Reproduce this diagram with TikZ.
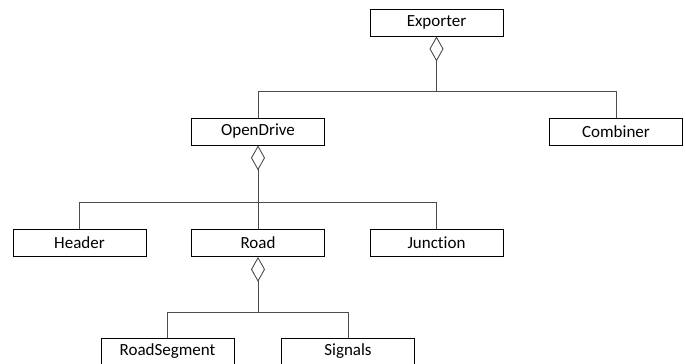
\documentclass[tikz,border=0pt]{standalone}
\usepackage{fontspec}
\setmainfont[Ligatures={NoCommon}]{Carlito}
\usetikzlibrary{arrows.meta}
\tikzset{
    class node/.style={draw, line width=0.8pt, minimum width=133pt, minimum height=27pt, inner sep=0pt, font=\fontsize{17}{19}\selectfont},
    link/.style={draw=black!70, line width=0.9pt},
    agg/.style={link, {Diamond[open, length=25pt, width=14pt, line width=0.9pt]}-},
}

\begin{document}
\begin{tikzpicture}[x=1pt, y=-1pt]
    \useasboundingbox (0,0) rectangle (686,364);
    \node[class node] (exporter) at (436.5,22.5) {Exporter};
    \node[class node] (combiner) at (616,131.5) {Combiner};
    \node[class node] (opendrive) at (258,131.5) {OpenDrive};
    \node[class node] (header) at (79.5,243) {Header};
    \node[class node] (road) at (258,243) {Road};
    \node[class node] (junction) at (436.5,243) {Junction};
    \node[class node] (roadsegment) at (167.5,351.5) {RoadSegment};
    \node[class node] (signals) at (348,351.5) {Signals};
    \coordinate (bus1) at (436.5,91);
    \coordinate (bus2) at (258,202);
    \coordinate (bus3) at (258,312);
    % aggregation links
    \path[agg] (exporter) -- (bus1);
    \path[link] (bus1) -| (opendrive);
    \path[link] (bus1) -| (combiner);
    \path[agg] (opendrive) -- (bus2);
    \path[link] (bus2) -| (header);
    \path[link] (bus2) -- (road);
    \path[link] (bus2) -| (junction);
    \path[agg] (road) -- (bus3);
    \path[link] (bus3) -| (roadsegment);
    \path[link] (bus3) -| (signals);
\end{tikzpicture}
\end{document}
